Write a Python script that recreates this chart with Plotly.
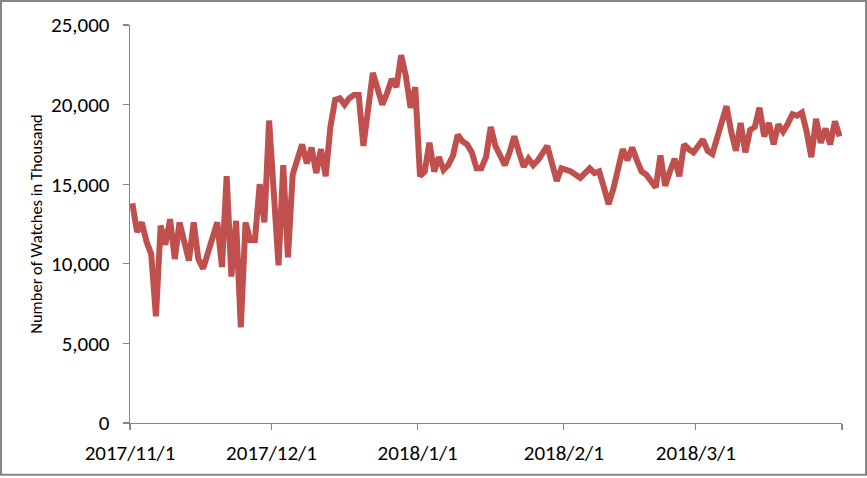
import pandas as pd
import plotly.graph_objects as go

# Daily values (thousands)
nov = [13.8, 12.0, 12.6, 11.4, 10.6, 6.7, 12.4, 11.2, 12.8, 10.3,
       12.6, 11.4, 10.2, 12.6, 10.3, 9.7, 10.6, 11.6, 12.6, 9.8,
       15.5, 9.2, 12.7, 6.0, 12.6, 11.5, 11.5, 15.0, 12.6, 19.0]
dec = [14.4, 9.9, 16.2, 10.4, 15.6, 16.6, 17.5, 16.3, 17.3, 15.7,
       17.2, 15.5, 18.6, 20.3, 20.4, 20.0, 20.4, 20.6, 20.6, 17.4,
       19.7, 22.0, 21.0, 20.0, 20.7, 21.6, 21.1, 23.1, 21.8, 19.8, 21.1]
jan = [15.5, 15.8, 17.6, 15.8, 16.7, 15.9, 16.2, 16.8, 18.1, 17.7,
       17.5, 17.0, 16.0, 16.0, 16.7, 18.6, 17.4, 16.8, 16.2, 17.0,
       18.0, 17.0, 16.1, 16.6, 16.2, 16.5, 17.0, 17.4, 16.3, 15.2, 16.0]
feb = [15.9, 15.8, 15.6, 15.4, 15.7, 16.0, 15.7, 15.8, 14.8, 13.75,
       14.7, 16.0, 17.2, 16.5, 17.3, 16.5, 15.8, 15.6, 15.2, 14.8,
       16.8, 14.9, 15.8, 16.6, 15.5, 17.5, 17.2, 17.0]
mar = [17.4, 17.8, 17.1, 16.9, 17.9, 18.9, 19.9, 18.3, 17.1, 18.85,
       17.0, 18.4, 18.6, 19.8, 18.0, 18.85, 17.5, 18.75, 18.3, 18.8,
       19.4, 19.3, 19.5, 18.3, 16.7, 19.1, 17.6, 18.5, 17.5, 18.95, 18.0]

values = [v * 1000 for v in nov + dec + jan + feb + mar]
dates = pd.date_range("2017-11-01", periods=len(values), freq="D") + pd.Timedelta(hours=12)

tick_vals = ["2017-11-01", "2017-12-01", "2018-01-01", "2018-02-01", "2018-03-01", "2018-04-01"]
tick_text = ["2017/11/1", "2017/12/1", "2018/1/1", "2018/2/1", "2018/3/1", ""]
y_ticks = [0, 5000, 10000, 15000, 20000, 25000]

W, H = 867, 478
ML, MR, MT, MB = 130, 25, 25, 53
PW, PH = W - ML - MR, H - MT - MB

FONT = "Carlito, Calibri, Liberation Sans, Arial, sans-serif"
AXIS = "#868686"

fig = go.Figure()
fig.add_trace(go.Scatter(
    x=dates, y=values, mode="lines",
    line=dict(color="#C0504D", width=6),
    hoverinfo="skip", showlegend=False,
))

fig.update_layout(
    width=W, height=H,
    margin=dict(l=ML, r=MR, t=MT, b=MB),
    paper_bgcolor="white", plot_bgcolor="white",
    font=dict(family=FONT, color="black", size=21),
    showlegend=False,
    xaxis=dict(
        type="date",
        range=["2017-11-01", "2018-04-01"],
        tickmode="array", tickvals=tick_vals, ticktext=tick_text,
        showgrid=False, zeroline=False,
        showline=True, linecolor=AXIS, linewidth=1.3,
        ticks="outside", ticklen=6, tickcolor=AXIS, tickwidth=1.3,
        tickfont=dict(family=FONT, size=21, color="black"),
        ticklabelstandoff=4,
    ),
    yaxis=dict(
        range=[0, 25000],
        tickmode="array", tickvals=y_ticks,
        tickformat=",d",
        showgrid=False, zeroline=False,
        showline=True, linecolor=AXIS, linewidth=1.3,
        ticks="outside", ticklen=6, tickcolor=AXIS, tickwidth=1.3,
        tickfont=dict(family=FONT, size=21, color="black"),
        ticklabelstandoff=9,
        title=dict(text="Number of Watches in Thousand",
                   font=dict(family=FONT, size=16.5, color="black"),
                   standoff=4),
    ),
    shapes=[dict(
        type="rect", xref="paper", yref="paper",
        x0=-(ML - 1) / PW, x1=1 + (MR - 1) / PW,
        y0=-(MB - 1) / PH, y1=1 + (MT - 1) / PH,
        line=dict(color=AXIS, width=2), fillcolor="rgba(0,0,0,0)",
        layer="above",
    )],
)

fig.write_html(
    "out.html",
    config={"displayModeBar": False, "staticPlot": True},
    post_script="document.body.style.margin='0';document.body.style.padding='0';",
)
